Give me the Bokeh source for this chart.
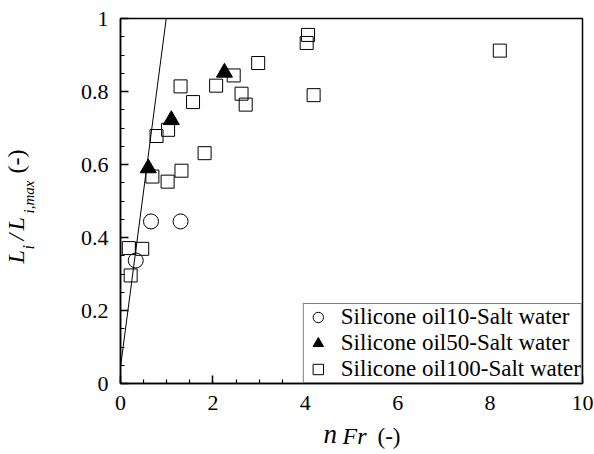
import math
from bokeh.plotting import figure
from bokeh.layouts import row, column
from bokeh.models import Label, Legend, LegendItem, Range1d, FixedTicker
from bokeh.embed import file_html
from bokeh.resources import INLINE

# ---- data ----
oil10_x = [0.33, 0.66, 1.30]
oil10_y = [0.337, 0.444, 0.444]

oil50_x = [0.60, 1.10, 2.25]
oil50_y = [0.590, 0.722, 0.852]

oil100_x = [0.18, 0.47, 0.22, 0.69, 1.02, 1.32, 0.78, 1.03, 1.82, 1.30, 1.57,
            2.07, 2.45, 2.62, 2.71, 2.98, 4.03, 4.06, 4.18, 8.21]
oil100_y = [0.371, 0.369, 0.296, 0.567, 0.553, 0.583, 0.678, 0.695, 0.631, 0.814,
            0.771, 0.816, 0.844, 0.794, 0.764, 0.878, 0.933, 0.955, 0.790, 0.912]

fit_x = [0.0, 0.99]
fit_y = [0.045, 1.0]

x_ticks = [0, 2, 4, 6, 8, 10]
y_ticks = [0, 0.2, 0.4, 0.6, 0.8, 1.0]
y_tick_labels = {0: "0", 0.2: "0.2", 0.4: "0.4", 0.6: "0.6", 0.8: "0.8", 1.0: "1"}

legend_labels = ["Silicone oil10-Salt water", "Silicone oil50-Salt water",
                 "Silicone oil100-Salt water"]

SERIF = "Liberation Serif"
YLAB_W = 50
MAIN_W, MAIN_H = 544, 420
XLAB_H = 34
TOTAL_H = MAIN_H + XLAB_H

# ---- main plot ----
p = figure(width=MAIN_W, height=MAIN_H, output_backend="svg", toolbar_location=None,
           x_range=Range1d(0, 10), y_range=Range1d(0, 1),
           min_border_left=70, min_border_right=12,
           min_border_top=18, min_border_bottom=37)
p.background_fill_color = "white"
p.border_fill_color = "white"
p.outline_line_color = "black"
p.outline_line_width = 1.5
p.xgrid.visible = False
p.ygrid.visible = False

for ax in (p.xaxis[0], p.yaxis[0]):
    ax.axis_line_color = "black"
    ax.axis_line_width = 1.5
    ax.major_tick_in = 8
    ax.major_tick_out = 0
    ax.minor_tick_in = 4
    ax.minor_tick_out = 0
    ax.major_tick_line_width = 1.5
    ax.minor_tick_line_width = 1.2
    ax.major_label_text_font = SERIF
    ax.major_label_text_font_size = "22px"
    ax.major_label_text_color = "black"
    ax.axis_label = None

p.xaxis.ticker = FixedTicker(ticks=x_ticks, minor_ticks=[i * 0.5 for i in range(21)])
p.yaxis.ticker = FixedTicker(ticks=y_ticks, minor_ticks=[i * 0.05 for i in range(21)])
p.yaxis.major_label_overrides = y_tick_labels
p.xaxis.major_label_standoff = 12
p.yaxis.major_label_standoff = 12

p.line(fit_x, fit_y, line_color="black", line_width=1)

r100 = p.scatter(oil100_x, oil100_y, marker="square", size=13, fill_color=None,
                 line_color="black", line_width=1)
r10 = p.scatter(oil10_x, oil10_y, marker="circle", size=15, fill_color=None,
                line_color="black", line_width=1)
r50 = p.scatter(oil50_x, oil50_y, marker="triangle", size=16, fill_color="black",
                line_color="black", line_width=1)

legend = Legend(items=[LegendItem(label=legend_labels[0], renderers=[r10]),
                       LegendItem(label=legend_labels[1], renderers=[r50]),
                       LegendItem(label=legend_labels[2], renderers=[r100])],
                location="bottom_right", margin=0, padding=0, spacing=0,
                glyph_width=28, glyph_height=26, label_height=20, label_standoff=9,
                label_text_font=SERIF, label_text_font_size="23px",
                label_text_color="black",
                border_line_color="black", border_line_width=1,
                background_fill_color="white", background_fill_alpha=1)
p.add_layout(legend, "center")


def label_fig(w, h):
    f = figure(width=w, height=h, output_backend="svg", toolbar_location=None,
               x_range=Range1d(0, 1), y_range=Range1d(0, 1),
               x_axis_type=None, y_axis_type=None, min_border=0)
    f.outline_line_color = None
    f.xgrid.visible = False
    f.ygrid.visible = False
    f.background_fill_color = "white"
    f.border_fill_color = "white"
    return f


# ---- x-axis title: n Fr (-) ----  (frame of this strip is aligned with the main frame)
xf = label_fig(MAIN_W, XLAB_H)
for txt, fs, style, x in [("n", 27, "italic", 203), ("Fr", 24, "italic", 222),
                          ("(-)", 23, "normal", 257)]:
    xf.add_layout(Label(x=x, y=6, x_units="screen", y_units="screen", text=txt,
                        text_font=SERIF, text_font_style=style,
                        text_font_size=f"{fs}px", text_color="black"))

# ---- y-axis title: L_i /L_i,max (-) (rotated) ----
yf = label_fig(YLAB_W, TOTAL_H)
base_x = 28
sub_x = 36
pieces = [
    ("L", 24, "italic", base_x, 191),
    ("i", 16, "italic", sub_x, 205),
    ("/", 24, "italic", base_x, 214),
    ("L", 24, "italic", base_x, 224),
    ("i,max", 15, "italic", sub_x, 241),
    ("(-)", 24, "normal", base_x, 281),
]
for txt, fs, style, bx, by in pieces:
    yf.add_layout(Label(x=bx, y=by, x_units="screen", y_units="screen", text=txt,
                        angle=math.pi / 2, text_font=SERIF, text_font_style=style,
                        text_font_size=f"{fs}px", text_color="black"))

layout = row(yf, column(p, xf, spacing=0), spacing=0)
open("out.html", "w").write(file_html(layout, INLINE))
